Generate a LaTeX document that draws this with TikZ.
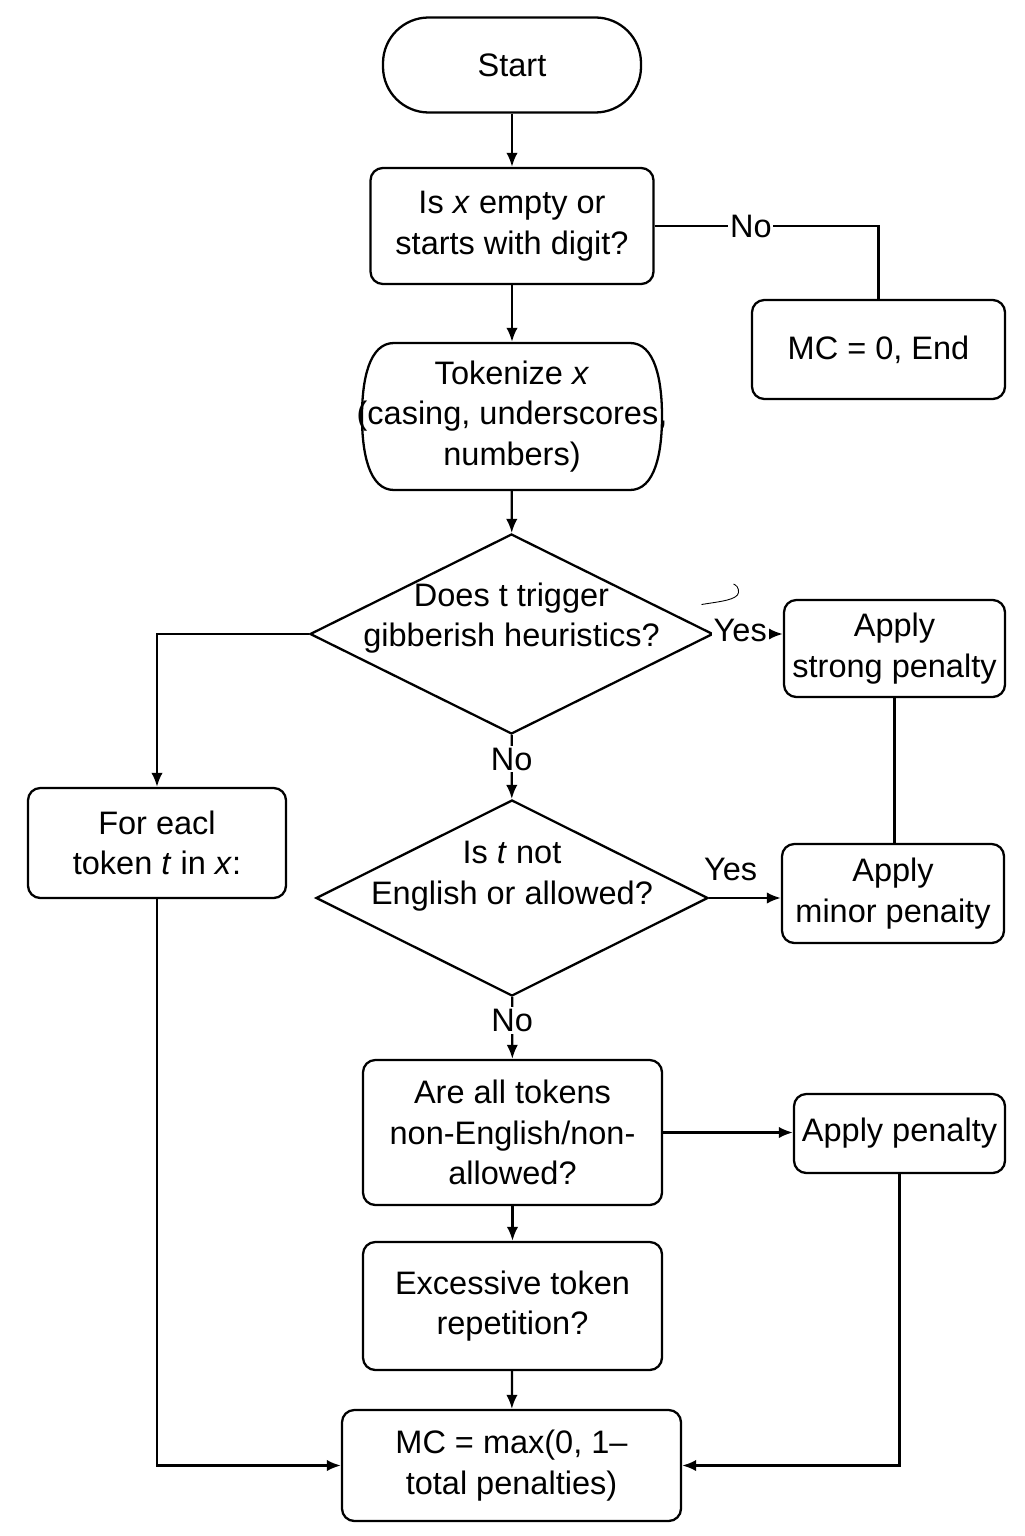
\documentclass[tikz,border=0pt]{standalone}
\usepackage{fontspec}
\setmainfont{Liberation Sans}
\usetikzlibrary{shapes.geometric,arrows.meta}
\begin{document}
\begin{tikzpicture}[
  font=\fontsize{18.5}{23}\selectfont,
  line width=1.3pt,
  box/.style={draw, rounded corners=7pt, align=center, inner sep=0pt},
  dia/.style={draw, diamond, inner sep=0pt},
  dtext/.style={align=center, inner sep=0pt},
  conn/.style={-{Latex[length=8pt,width=6.5pt]}},
  lbl/.style={fill=white, inner sep=1pt},
]
\useasboundingbox (0,0) rectangle (20.48,-30.72);

% nodes
\node[box, rounded corners=26pt, minimum width=5.16cm, minimum height=1.90cm] (start) at (10.24,-1.30) {Start};
\node[box, minimum width=5.66cm, minimum height=2.32cm] (b1) at (10.24,-4.52) {Is \textit{x} empty or\\starts with digit?};
\node[box, minimum width=5.06cm, minimum height=1.98cm] (mc0) at (17.57,-6.99) {MC = 0, End};
\node[align=center, inner sep=0pt, minimum width=6.0cm, minimum height=2.94cm] (tok) at (10.24,-8.33) {Tokenize \textit{x}\\(casing, underscores,\\numbers)};
\begin{scope}[shift={(tok.center)}]
  \draw (-2.36,1.47) -- (2.36,1.47) .. controls (2.86,1.47) and (3.0,0.73) .. (3.0,0)
        .. controls (3.0,-0.73) and (2.86,-1.47) .. (2.36,-1.47) -- (-2.36,-1.47)
        .. controls (-2.86,-1.47) and (-3.0,-0.73) .. (-3.0,0)
        .. controls (-3.0,0.73) and (-2.86,1.47) .. cycle;
\end{scope}
\node[dia, minimum width=8.06cm, minimum height=4.0cm] (d1) at (10.23,-12.68) {};
\node[dtext] (d1t) at (10.23,-12.36) {Does t trigger\\gibberish heuristics?};
\node[box, minimum width=4.42cm, minimum height=1.94cm] (strong) at (17.89,-12.97) {Apply\\strong penalty};
\node[box, minimum width=5.16cm, minimum height=2.2cm] (fe) at (3.14,-16.86) {For eacl\\token \textit{t} in \textit{x}:};
\node[dia, minimum width=7.84cm, minimum height=3.92cm] (d2) at (10.24,-17.96) {};
\node[dtext] (d2t) at (10.24,-17.52) {Is \textit{t} not\\English or allowed?};
\node[box, minimum width=4.44cm, minimum height=1.98cm] (minor) at (17.86,-17.87) {Apply\\minor penaity};
\node[box, minimum width=5.98cm, minimum height=2.90cm] (b3) at (10.25,-22.65) {Are all tokens\\non-English/non-\\allowed?};
\node[box, minimum width=4.22cm, minimum height=1.58cm] (pen) at (17.99,-22.67) {Apply penalty};
\node[box, minimum width=5.98cm, minimum height=2.56cm] (b4) at (10.25,-26.12) {Excessive token\\repetition?};
\node[box, minimum width=6.78cm, minimum height=2.22cm] (fin) at (10.23,-29.31) {MC = max(0, 1–\\total penalties)};

% connectors
\draw[conn] (start) -- (b1);
\draw (b1.east) -- node[lbl, pos=0.43] {No} (b1.east -| mc0.north) -- (mc0.north);
\draw[conn] (b1) -- (tok);
\draw[conn] (tok) -- (d1);
\draw[conn] (d1.east) -- node[lbl, pos=0.38, yshift=2pt] {Yes} (d1.east -| strong.west);
\draw[conn] (d1.west) -| (fe.north);
\draw (strong.south) -- (strong.south |- minor.north);
\draw[conn] (d1) -- node[lbl, pos=0.38] {No} (d2);
\draw[conn] (d2.east) -- node[above=6pt, pos=0.3] {Yes} (d2.east -| minor.west);
\draw[conn] (d2) -- node[lbl, pos=0.38] {No} (b3);
\draw[conn] (b3.east) -- (b3.east -| pen.west);
\draw[conn] (b3) -- (b4);
\draw[conn] (b4) -- (fin);
\draw[conn] (fe.south) |- (fin.west);
\draw[conn] (pen.south) |- (fin.east);

% stray mark
\draw[line width=0.5pt] (14.03,-12.09) .. controls (14.4,-12.03) and (14.75,-12.0) .. (14.77,-11.85)
      .. controls (14.78,-11.75) and (14.72,-11.7) .. (14.67,-11.68);
\end{tikzpicture}
\end{document}
